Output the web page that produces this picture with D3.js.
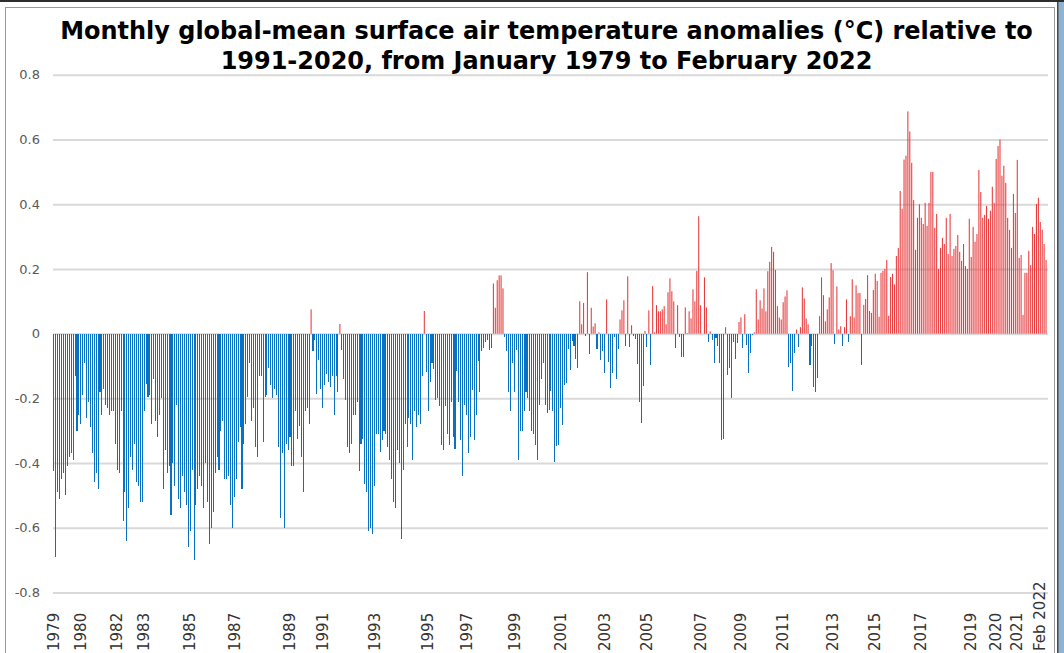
<!DOCTYPE html>
<html>
<head>
<meta charset="utf-8">
<script src="https://cdn.jsdelivr.net/npm/d3@7"></script>
<style>
body { margin: 0; background: #fff; }
svg { display: block; }
</style>
</head>
<body>
<script>
(function(document, window){
'use strict';

// monthly anomalies (degC, vs 1991-2020), Jan 1979 .. Feb 2022
var anomalies = [
	-0.425, -0.69, -0.49, -0.51, -0.45, -0.43, -0.50, -0.41, -0.38, -0.37, -0.39, -0.13,
	-0.30, -0.25, -0.28, -0.19, -0.09, -0.26, -0.21, -0.29, -0.37, -0.46, -0.43, -0.48,
	-0.18, -0.25, -0.17, -0.22, -0.23, -0.25, -0.24, -0.24, -0.34, -0.42, -0.43, -0.24,
	-0.58, -0.49, -0.64, -0.54, -0.38, -0.42, -0.34, -0.46, -0.47, -0.52, -0.52, -0.24,
	-0.155, -0.195, -0.19, -0.28, -0.14, -0.27, -0.32, -0.25, -0.20, -0.48, -0.36, -0.43,
	-0.41, -0.56, -0.40, -0.47, -0.22, -0.51, -0.54, -0.44, -0.49, -0.53, -0.66, -0.61,
	-0.42, -0.70, -0.53, -0.48, -0.44, -0.47, -0.54, -0.40, -0.52, -0.65, -0.60, -0.55,
	-0.43, -0.38, -0.42, -0.30, -0.27, -0.45, -0.45, -0.44, -0.53, -0.60, -0.505, -0.45,
	-0.335, -0.29, -0.48, -0.34, -0.28, -0.195, -0.09, -0.27, -0.23, -0.35, -0.38, -0.13,
	-0.13, -0.335, -0.195, -0.19, -0.105, -0.16, -0.20, -0.17, -0.19, -0.35, -0.57, -0.37,
	-0.60, -0.34, -0.36, -0.32, -0.41, -0.41, -0.24, -0.325, -0.285, -0.38, -0.49, -0.24,
	-0.23, -0.28, 0.075, -0.055, -0.02, -0.185, -0.08, -0.17, -0.23, -0.16, -0.125, -0.15,
	-0.165, -0.13, -0.25, -0.13, -0.18, 0.03, -0.05, -0.14, -0.205, -0.35, -0.37, -0.34,
	-0.25, -0.25, -0.21, -0.425, -0.34, -0.325, -0.465, -0.49, -0.61, -0.60, -0.62, -0.47,
	-0.31, -0.31, -0.365, -0.33, -0.30, -0.31, -0.35, -0.39, -0.45, -0.52, -0.54, -0.36,
	-0.40, -0.635, -0.42, -0.28, -0.35, -0.26, -0.28, -0.39, -0.24, -0.29, -0.25, -0.28,
	-0.13, 0.07, -0.12, -0.24, -0.15, -0.09, -0.11, -0.205, -0.20, -0.225, -0.345, -0.36,
	-0.225, -0.31, -0.345, -0.21, -0.32, -0.355, -0.115, -0.21, -0.33, -0.44, -0.22, -0.25,
	-0.37, -0.32, -0.175, -0.33, -0.25, -0.085, -0.18, -0.055, -0.045, -0.025, -0.02, -0.05,
	-0.045, 0.155, 0.08, 0.165, 0.18, 0.18, 0.14, -0.01, -0.055, -0.18, -0.24, -0.09,
	-0.18, -0.05, -0.39, -0.30, -0.30, -0.24, -0.18, -0.20, -0.24, -0.30, -0.31, -0.345,
	-0.39, -0.22, -0.14, -0.09, -0.22, -0.245, -0.236, -0.177, -0.238, -0.396, -0.347, -0.344,
	-0.229, -0.281, -0.158, -0.153, -0.047, -0.112, -0.022, -0.038, -0.078, -0.106, 0.10, 0.029,
	0.095, -0.007, 0.19, -0.063, 0.08, 0.022, 0.032, -0.047, 0.004, -0.081, -0.054, -0.122,
	0.106, -0.088, -0.168, -0.122, -0.01, -0.14, -0.047, 0.044, 0.072, 0.103, -0.038, 0.177,
	-0.041, 0.026, -0.006, -0.016, -0.094, -0.211, -0.276, -0.162, 0.008, -0.041, 0.072, -0.097,
	0.147, 0.004, 0.088, 0.069, 0.069, 0.075, 0.085, 0.029, 0.128, 0.171, 0.131, 0.10,
	-0.044, 0.088, -0.01, -0.072, -0.072, 0.081, 0.002, 0.069, 0.047, 0.137, 0.10, 0.194,
	0.363, 0.088, -0.002, 0.174, 0.081, -0.026, 0.007, -0.02, -0.091, -0.013, -0.038, -0.091,
	-0.33, -0.325, 0.02, -0.128, -0.106, -0.199, -0.026, -0.078, -0.029, 0.036, 0.05, -0.044,
	0.06, -0.035, -0.122, -0.06, -0.005, 0.004, 0.137, 0.044, 0.103, 0.078, 0.14, 0.069,
	0.193, 0.222, 0.268, 0.253, 0.197, 0.085, 0.05, 0.044, 0.097, 0.115, 0.134, -0.103,
	-0.091, -0.177, -0.06, 0.013, -0.041, 0.02, 0.143, 0.109, 0.047, 0.029, -0.097, -0.038,
	-0.165, -0.18, -0.137, 0.054, 0.174, 0.119, 0.038, 0.075, 0.112, 0.218, 0.196, -0.032,
	0.146, 0.013, 0.023, -0.038, 0.02, 0.106, -0.026, 0.054, 0.168, 0.05, 0.149, 0.125,
	0.126, -0.097, 0.089, 0.107, 0.181, 0.07, 0.064, 0.135, 0.185, 0.163, 0.052, 0.188,
	0.194, 0.20, 0.228, 0.055, 0.175, 0.185, 0.152, 0.24, 0.265, 0.441, 0.386, 0.538,
	0.55, 0.687, 0.625, 0.528, 0.413, 0.259, 0.358, 0.40, 0.358, 0.339, 0.404, 0.333,
	0.404, 0.50, 0.50, 0.327, 0.37, 0.20, 0.265, 0.296, 0.277, 0.358, 0.246, 0.37,
	0.24, 0.262, 0.271, 0.305, 0.253, 0.225, 0.277, 0.209, 0.20, 0.355, 0.237, 0.33,
	0.284, 0.308, 0.506, 0.438, 0.358, 0.367, 0.395, 0.355, 0.38, 0.454, 0.404, 0.54,
	0.58, 0.60, 0.488, 0.519, 0.466, 0.358, 0.321, 0.265, 0.432, 0.373, 0.537, 0.234,
	0.243, 0.058, 0.188, 0.188, 0.256, 0.212, 0.33, 0.308, 0.401, 0.42, 0.345, 0.321,
	0.277, 0.228
];

var monthNames = ['Jan','Feb','Mar','Apr','May','Jun','Jul','Aug','Sep','Oct','Nov','Dec'];
var startYear = 1979;

var yTicks = [-0.8, -0.6, -0.4, -0.2, 0, 0.2, 0.4, 0.6, 0.8];

var xTickLabels = ['1979','1980','1982','1983','1985','1987','1989','1991','1993','1995','1997','1999',
				'2001','2003','2005','2007','2009','2011','2013','2015','2017','2019','2020','2021','Feb 2022'];
var xTickMonths = [3, 17, 36, 50, 74, 97, 126, 143, 170, 198, 218, 243,
				267, 290, 312, 340, 361, 383, 409, 431, 455, 481, 494, 505, 517];

var titleLines = ['Monthly global-mean surface air temperature anomalies (\u00b0C) relative to',
				'1991-2020, from January 1979 to February 2022'];

var months = [];
for(var i=0; i<anomalies.length; i++){
	months.push(monthNames[i % 12] + ' ' + (startYear + Math.floor(i / 12)));
}

var width = 1064;
var height = 653;
var left = 53, right = 1047, top = 74.8, bottom = 592.5;

var svg = d3.select('body').append('svg')
			.attr('width', width)
			.attr('height', height);

// frame round the chart, like the screenshot
svg.append('rect').attr('x', 0).attr('y', 0).attr('width', width).attr('height', 2).attr('fill', '#2e2e2e');
svg.append('rect').attr('x', 5.5).attr('y', 7.5).attr('width', 1049).attr('height', 660)
	.attr('fill', 'none').attr('stroke', '#9a9a9a').attr('stroke-width', 1);
svg.append('rect').attr('x', 1058).attr('y', 2).attr('width', 6).attr('height', height).attr('fill', '#8fb3d3');
svg.append('rect').attr('x', 1057).attr('y', 2).attr('width', 1.5).attr('height', height).attr('fill', '#4a4a4a');

var x = d3.scaleBand()
		.domain(months)
		.range([left, right])
		.padding(0);

var y = d3.scaleLinear()
		.domain([-0.8, 0.8])
		.range([bottom, top]);

function fmt(d){
	if(Math.abs(d) < 1e-9){ return '0'; }
	return (d < 0 ? '-' : '') + Math.abs(d).toFixed(1);
}

var yAxis = svg.append('g')
			.attr('transform', 'translate(' + left + ',0)')
			.call(d3.axisLeft(y)
				.tickValues(yTicks)
				.tickSize(-(right - left + 1))
				.tickPadding(13)
				.tickFormat(fmt));
yAxis.select('.domain').remove();
yAxis.selectAll('line').attr('stroke', '#d9d9d9').attr('stroke-width', 2);
yAxis.selectAll('text')
	.attr('fill', '#595959')
	.style('font-family', '"DejaVu Sans", Verdana, sans-serif')
	.style('font-size', '13px');

var barW = 1.05;
svg.append('g').selectAll('rect')
	.data(anomalies)
	.enter()
	.append('rect')
	.attr('x', function(d, i){ return x(months[i]) + (x.bandwidth() - barW) / 2; })
	.attr('width', barW)
	.attr('y', function(d){ return d >= 0 ? y(d) : y(0); })
	.attr('height', function(d){ return Math.abs(y(d) - y(0)); })
	.attr('fill', function(d){ return d >= 0 ? '#e8393b' : '#0a70c2'; })
	.attr('shape-rendering', function(d){ return d >= 0 ? 'auto' : 'crispEdges'; });

// category labels, rotated, as in the original
var xAxis = svg.append('g');
xAxis.selectAll('text')
	.data(xTickLabels)
	.enter()
	.append('text')
	.attr('transform', function(d, i){
		var cx = x(months[xTickMonths[i]]) + x.bandwidth() / 2 - 6;
		return 'translate(' + cx + ',651) rotate(-90)';
	})
	.attr('dy', '0.36em')
	.attr('text-anchor', 'start')
	.attr('fill', '#333')
	.style('font-family', '"DejaVu Sans", Verdana, sans-serif')
	.style('font-size', '15px')
	.text(function(d){ return d; });

var title = svg.append('g');
var t1 = title.append('text')
	.attr('x', 546.5)
	.attr('y', 38.5)
	.attr('text-anchor', 'middle')
	.style('font-family', '"DejaVu Sans", Verdana, sans-serif')
	.style('font-weight', 'bold')
	.style('font-size', '23px')
	.attr('fill', '#000')
	.text(titleLines[0]);
var t2 = title.append('text')
	.attr('x', 546.5)
	.attr('y', 68.5)
	.attr('text-anchor', 'middle')
	.style('font-family', '"DejaVu Sans", Verdana, sans-serif')
	.style('font-weight', 'bold')
	.style('font-size', '23px')
	.attr('fill', '#000')
	.text(titleLines[1]);

// squeeze the title to the width the original had
var w1 = t1.node().getComputedTextLength();
var fs = 23 * 973 / w1;
t1.style('font-size', fs + 'px');
t2.style('font-size', fs + 'px');

})(document, window);
</script>
</body>
</html>
